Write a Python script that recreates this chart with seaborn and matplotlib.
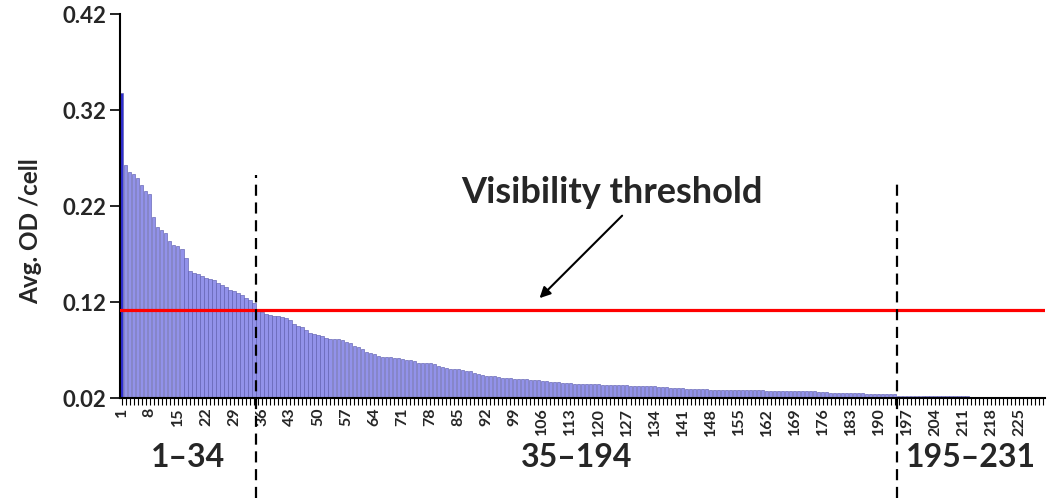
import matplotlib
matplotlib.use("Agg")
import matplotlib.pyplot as plt
import matplotlib.transforms as mtransforms
import pandas as pd
import seaborn as sns

# Avg. OD per cell, sorted descending, split in the three visibility groups
group_a = [
    0.338, 0.263, 0.255, 0.253, 0.249, 0.242, 0.236, 0.233, 0.209, 0.198,
    0.195, 0.192, 0.184, 0.179, 0.178, 0.175, 0.166, 0.152, 0.150, 0.149,
    0.147, 0.145, 0.144, 0.143, 0.140, 0.138, 0.136, 0.133, 0.131, 0.129,
    0.127, 0.124, 0.122, 0.119,
]
group_b = [
    0.112, 0.110, 0.108, 0.106, 0.105, 0.105, 0.104, 0.103, 0.101, 0.097,
    0.095, 0.094, 0.091, 0.088, 0.087, 0.086, 0.085,
    0.083, 0.082, 0.081, 0.081, 0.080, 0.078, 0.077, 0.074, 0.073, 0.071,
    0.068, 0.067, 0.066, 0.064, 0.063, 0.063, 0.063, 0.062, 0.062, 0.061,
    0.060, 0.060, 0.059, 0.057, 0.056, 0.056, 0.056, 0.055, 0.053, 0.052,
    0.051, 0.050, 0.050, 0.050, 0.049, 0.048, 0.048, 0.046, 0.045, 0.044, 0.043,
    0.043, 0.043, 0.042, 0.041, 0.041, 0.041, 0.040, 0.040, 0.040, 0.040,
    0.039, 0.039, 0.039, 0.038, 0.038, 0.037, 0.037, 0.037, 0.036, 0.036, 0.036,
    0.035, 0.035, 0.035, 0.035, 0.035, 0.035, 0.035,
    0.034, 0.034, 0.034, 0.034, 0.034, 0.034, 0.034,
    0.033, 0.033, 0.033, 0.033, 0.033, 0.033, 0.033,
    0.031, 0.031, 0.031, 0.030, 0.030, 0.030, 0.030,
    0.029, 0.029, 0.029, 0.029, 0.029, 0.029,
    0.028, 0.028, 0.028, 0.028, 0.028, 0.028, 0.028,
    0.028, 0.028, 0.028, 0.028, 0.028, 0.028, 0.028,
    0.027, 0.027, 0.027, 0.027, 0.027, 0.027, 0.027,
    0.027, 0.027, 0.027, 0.027, 0.027, 0.027,
    0.026, 0.026, 0.026, 0.025, 0.025, 0.025, 0.025, 0.025, 0.025, 0.025,
    0.025, 0.025, 0.024, 0.024, 0.024, 0.024, 0.024, 0.024, 0.024, 0.024,
]
group_c = [
    0.022, 0.022, 0.022, 0.022, 0.022, 0.022, 0.022, 0.022, 0.022, 0.022,
    0.022, 0.022, 0.022, 0.022, 0.022, 0.022, 0.022, 0.022,
    0.021, 0.021, 0.021, 0.021, 0.021, 0.021, 0.021, 0.021, 0.021, 0.021,
    0.021, 0.021, 0.021, 0.021, 0.021, 0.021, 0.021, 0.021, 0.021,
]
group_labels = ["1–34", "35–194", "195–231"]
threshold = 0.112
y_ticks = [0.02, 0.12, 0.22, 0.32, 0.42]

values = group_a + group_b + group_c
n = len(values)
df = pd.DataFrame({"bar": list(range(1, n + 1)), "od": values})

sns.set_theme(style="white")
plt.rcParams["font.family"] = ["Lato", "DejaVu Sans"]
plt.rcParams["font.weight"] = "bold"

fig = plt.figure(figsize=(10.5, 5.03), dpi=100)
ax = fig.add_axes([0.1143, 0.2087, 0.881, 0.7634])

sns.barplot(data=df, x="bar", y="od", color="#9292ea", saturation=1,
            width=0.8, edgecolor="#5f5fb0", linewidth=0.45, errorbar=None, ax=ax)
ax.patches[0].set_facecolor("#2f2fd0")

ax.set_xlim(-0.45, n - 0.5)
ax.set_ylim(y_ticks[0], y_ticks[-1])
ax.set_yticks(y_ticks)
ax.set_yticklabels([f"{t:.2f}" for t in y_ticks], fontsize=16, fontweight="bold")

major = list(range(0, n, 7))
ax.set_xticks(major)
ax.set_xticklabels([str(i + 1) for i in major], rotation=90, fontsize=11.5,
                   fontweight="bold")
ax.set_xticks(range(n), minor=True)
ax.tick_params(axis="x", which="both", direction="out", length=5, width=0.8,
               color="black", bottom=True, pad=2)
ax.tick_params(axis="y", direction="out", length=7, width=1.2, color="black",
               left=True, pad=3)

ax.set_xlabel("")
ax.set_ylabel("Avg. OD /cell", fontsize=17.5, fontweight="bold")
ax.yaxis.set_label_coords(-0.084, 0.435)

sns.despine(ax=ax)
for side in ["left", "bottom"]:
    ax.spines[side].set_color("black")
    ax.spines[side].set_linewidth(1.5)

# visibility threshold
ax.axhline(threshold, color="red", lw=2.3, zorder=4)

# group boundaries
trans = mtransforms.blended_transform_factory(ax.transData, ax.transAxes)
bounds = [len(group_a) - 0.5, len(group_a) + len(group_b) - 0.5]
tops = [0.58, 0.56]
for b, top in zip(bounds, tops):
    ax.plot([b, b], [-0.26, top], transform=trans, clip_on=False, color="black",
            lw=1.6, ls=(0, (5, 3)), zorder=5)

starts = [0, len(group_a), len(group_a) + len(group_b)]
ends = [len(group_a) - 1, len(group_a) + len(group_b) - 1, n - 1]
for lab, s, e in zip(group_labels, starts, ends):
    ax.text((s + e) / 2, -0.155, lab, transform=trans, ha="center", va="center",
            fontsize=23, fontweight="bold")

ax.text(122.4, 0.2346, "Visibility threshold", ha="center", va="center",
        fontsize=26, fontweight="bold")
ax.annotate("", xy=(103.8, 0.122), xytext=(125.4, 0.2120),
            arrowprops=dict(arrowstyle="-|>", color="black", lw=1.5,
                            mutation_scale=16))

plt.savefig("out.png", dpi=100)
plt.close()
